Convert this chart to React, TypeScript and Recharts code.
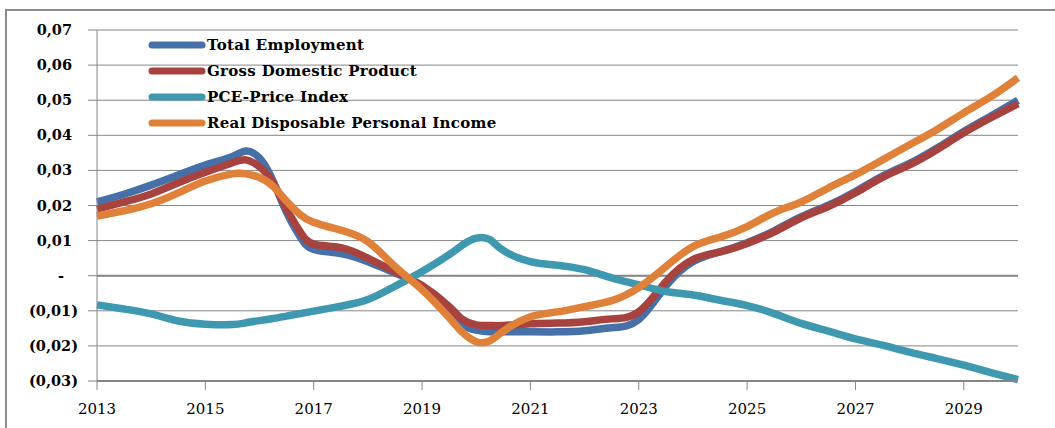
import { LineChart, Line, XAxis, YAxis, CartesianGrid, ReferenceLine, Legend } from 'recharts';

// x positions in years (extra points where the curves turn quickly)
const years = [
  2013, 2013.5, 2014, 2014.5, 2015, 2015.5, 2015.75, 2016, 2016.25, 2016.5, 2016.75, 2017, 2017.5,
  2018, 2018.5, 2019, 2019.5, 2019.75, 2020, 2020.25, 2020.5, 2021, 2021.5, 2022, 2022.5, 2023,
  2023.5, 2024, 2024.5, 2025, 2025.5, 2026, 2026.5, 2027, 2027.5, 2028, 2028.5, 2029, 2029.5, 2030
];

const totalEmployment = [
  0.021, 0.0232, 0.0258, 0.0287, 0.0315, 0.034, 0.0355, 0.0335, 0.027, 0.018, 0.011, 0.0075, 0.0063,
  0.004, 0.0008, -0.003, -0.0097, -0.014, -0.0155, -0.016, -0.016, -0.016, -0.016, -0.0157, -0.0148, -0.0125,
  -0.003, 0.004, 0.0068, 0.0094, 0.0128, 0.0168, 0.0201, 0.024, 0.0284, 0.032, 0.0363, 0.0411, 0.0455, 0.05
];

const grossDomesticProduct = [
  0.019, 0.021, 0.0233, 0.0265, 0.0295, 0.0322, 0.033, 0.031, 0.0265, 0.019, 0.0125, 0.009, 0.008,
  0.005, 0.0012, -0.0028, -0.0088, -0.0125, -0.014, -0.0142, -0.0142, -0.0137, -0.0135, -0.0131, -0.0123, -0.0103,
  -0.0017, 0.0046, 0.0068, 0.0092, 0.0125, 0.0165, 0.0197, 0.0236, 0.028, 0.0316, 0.0359, 0.0407, 0.045, 0.049
];

const pcePriceIndex = [
  -0.0083, -0.0095, -0.0109, -0.0129, -0.0138, -0.0139, -0.0134, -0.0128, -0.0122, -0.0115, -0.0108, -0.0101, -0.0087,
  -0.0068, -0.003, 0.0012, 0.006, 0.0088, 0.0107, 0.0103, 0.0072, 0.004, 0.003, 0.0017, -0.0006, -0.0026,
  -0.0045, -0.0055, -0.007, -0.0085, -0.0108, -0.0136, -0.0158, -0.018, -0.0198, -0.0218, -0.0236, -0.0255, -0.0276, -0.0296
];

const realDisposableIncome = [
  0.017, 0.0185, 0.0205, 0.0236, 0.027, 0.029, 0.029, 0.028, 0.0255, 0.0212, 0.0174, 0.0152, 0.013,
  0.0097, 0.0026, -0.004, -0.012, -0.0162, -0.0188, -0.0186, -0.0158, -0.0117, -0.0103, -0.0088, -0.0071, -0.0034,
  0.0026, 0.0083, 0.011, 0.014, 0.018, 0.021, 0.025, 0.0288, 0.033, 0.0373, 0.0416, 0.0464, 0.051, 0.0564
];

const xTicks = [2013, 2015, 2017, 2019, 2021, 2023, 2025, 2027, 2029];
const yTicks = [-0.03, -0.02, -0.01, 0, 0.01, 0.02, 0.03, 0.04, 0.05, 0.06, 0.07];

const series = [
  { key: 'te', name: 'Total Employment', color: '#4670A8', values: totalEmployment },
  { key: 'gdp', name: 'Gross Domestic Product', color: '#A8423F', values: grossDomesticProduct },
  { key: 'pce', name: 'PCE-Price Index', color: '#3E98B0', values: pcePriceIndex },
  { key: 'rdpi', name: 'Real Disposable Personal Income', color: '#E0813A', values: realDisposableIncome }
];

const data = years.map((year, i) => {
  const row: Record<string, number> = { year };
  series.forEach(s => {
    row[s.key] = s.values[i];
  });
  return row;
});

const gridColor = '#868686';

// Excel accounting style: 0,07 / - / (0,01)
function YTick({ x, y, payload }: any) {
  const v = Math.round(payload.value * 100) / 100;
  let label = '';
  let dx = 0;
  if (v === 0) {
    label = '-';
    dx = -8;
  } else if (v < 0) {
    label = '(' + Math.abs(v).toFixed(2).replace('.', ',') + ')';
    dx = 6;
  } else {
    label = v.toFixed(2).replace('.', ',');
  }
  return (
    <text
      x={x + dx}
      y={y}
      dy="0.35em"
      textAnchor="end"
      fontFamily="'DejaVu Serif', serif"
      fontWeight="bold"
      fontSize={14.5}
      fill="#000"
    >
      {label}
    </text>
  );
}

function renderLegend() {
  return (
    <div
      style={{
        fontFamily: "'DejaVu Serif', serif",
        fontWeight: 'bold',
        fontSize: 15,
        letterSpacing: 0.3,
        color: '#000'
      }}
    >
      {series.map(s => (
        <div key={s.key} style={{ display: 'flex', alignItems: 'center', height: 26 }}>
          <svg width={58} height={10} style={{ marginRight: 1 }}>
            <line x1={4} y1={5} x2={54} y2={5} stroke={s.color} strokeWidth={7} strokeLinecap="round" />
          </svg>
          <span>{s.name}</span>
        </div>
      ))}
    </div>
  );
}

export default function App() {
  return (
    <div style={{ position: 'absolute', left: 0, top: 0, width: 1055, height: 428, background: '#fff' }}>
      <div
        style={{
          position: 'absolute',
          left: 5,
          top: 9,
          right: 0,
          bottom: 0,
          borderLeft: '2px solid #8a8a8a',
          borderTop: '2px solid #8a8a8a'
        }}
      />
      <LineChart
        width={1055}
        height={428}
        data={data}
        margin={{ top: 30, right: 37, bottom: 0, left: 0 }}
        style={{ position: 'absolute', left: 0, top: 0 }}
      >
        <CartesianGrid horizontal vertical={false} stroke={gridColor} strokeWidth={1} />
        <XAxis
          dataKey="year"
          type="number"
          domain={[2013, 2030]}
          ticks={xTicks}
          interval={0}
          height={47}
          axisLine={{ stroke: gridColor, strokeWidth: 2 }}
          tickLine={{ stroke: gridColor, strokeWidth: 1 }}
          tickSize={9}
          tickMargin={13}
          tick={{ fontFamily: "'DejaVu Serif', serif", fontSize: 15, fill: '#000' }}
        />
        <YAxis
          type="number"
          domain={[-0.03, 0.07]}
          ticks={yTicks}
          interval={0}
          width={97}
          axisLine={{ stroke: gridColor, strokeWidth: 1 }}
          tickLine={{ stroke: gridColor, strokeWidth: 1 }}
          tickSize={9}
          tickMargin={16}
          tick={<YTick />}
        />
        <ReferenceLine y={0} stroke={gridColor} strokeWidth={2} />
        <Legend
          layout="vertical"
          align="center"
          verticalAlign="middle"
          content={renderLegend}
          wrapperStyle={{ left: 148, top: 32, width: 420 }}
        />
        {series.map(s => (
          <Line
            key={s.key}
            type="natural"
            dataKey={s.key}
            name={s.name}
            stroke={s.color}
            strokeWidth={7.5}
            dot={false}
            activeDot={false}
            isAnimationActive={false}
          />
        ))}
      </LineChart>
    </div>
  );
}
